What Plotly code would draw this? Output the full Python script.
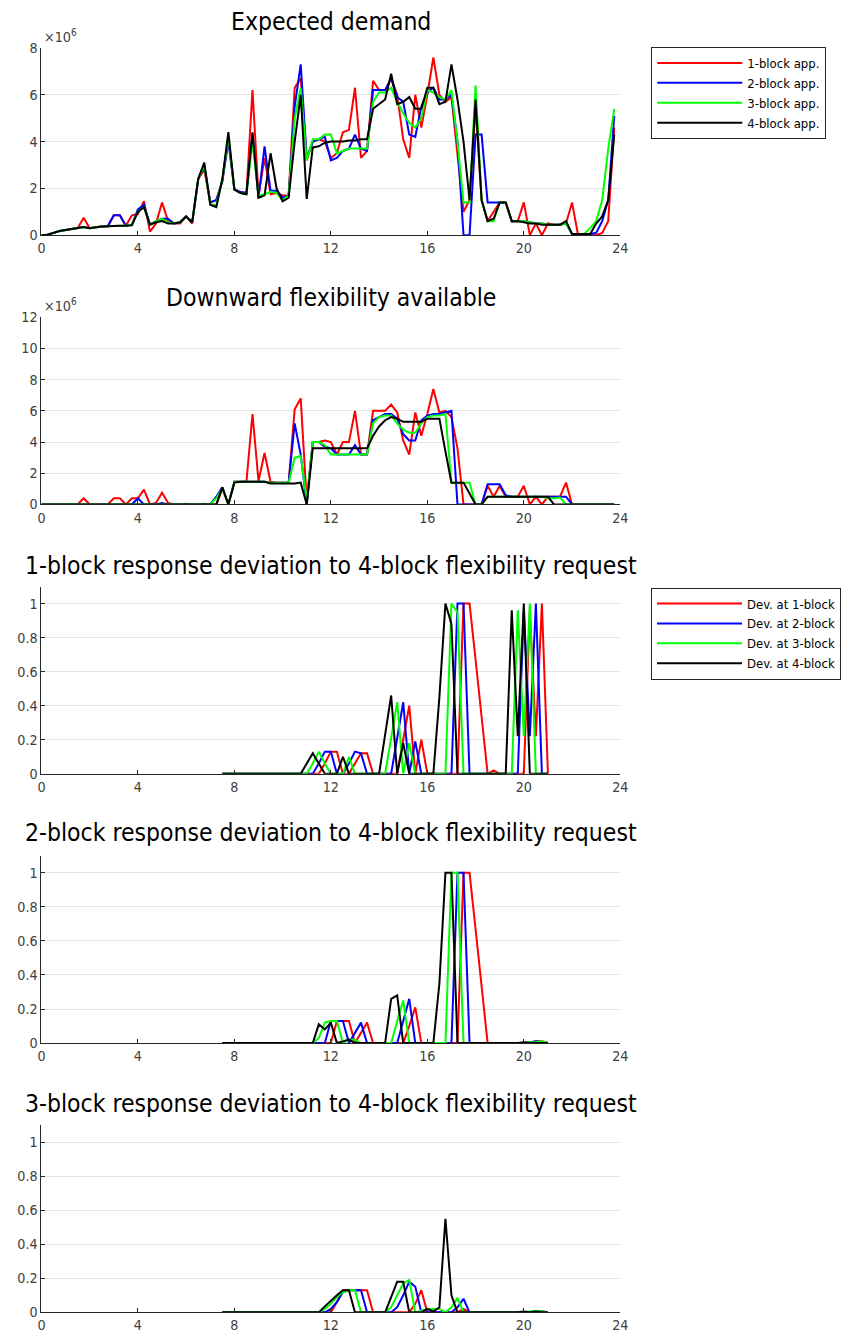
import plotly.graph_objects as go

# ---------------- data ----------------
HOURS = [i * 0.25 for i in range(96)]            # 0 .. 23.75 h (15-min steps)
DEV_HOURS = [7.5 + i * 0.25 for i in range(55)]  # 7.5 .. 21 h
X_TICKS = [0, 4, 8, 12, 16, 20, 24]

SERIES_NAMES = ["1-block app.", "2-block app.", "3-block app.", "4-block app."]
DEV_NAMES = ["Dev. at 1-block", "Dev. at 2-block", "Dev. at 3-block", "Dev. at 4-block"]
COLORS = ["#ff0000", "#0000ff", "#00ff00", "#000000"]
TITLES = ["Expected demand", "Downward flexibility available",
          "1-block response deviation to 4-block flexibility request",
          "2-block response deviation to 4-block flexibility request",
          "3-block response deviation to 4-block flexibility request"]

# Expected demand (x1e6)
DEM_1 = [0, 0.02, 0.1, 0.18, 0.22, 0.26, 0.3, 0.75, 0.3, 0.35, 0.37, 0.38,
         0.85, 0.85, 0.4, 0.85, 0.9, 1.45, 0.15, 0.5, 1.4, 0.6, 0.5, 0.5,
         0.8, 0.5, 2.4, 2.8, 1.4, 1.5, 2.3, 4.2, 1.95, 1.85, 1.8, 6.2,
         1.7, 3.3, 1.75, 1.8, 1.7, 1.7, 6.3, 6.7, 3.2, 4.0, 4.1, 4.0,
         3.3, 3.5, 4.4, 4.5, 6.3, 3.3, 3.6, 6.6, 6.2, 6.2, 6.7, 6.0,
         4.1, 3.3, 6.0, 4.6, 6.0, 7.6, 6.0, 5.7, 5.9, 3.5, 1.0, 1.5,
         5.5, 1.5, 0.6, 1.0, 1.4, 1.4, 0.6, 0.6, 1.4, 0.0, 0.5, 0.0,
         0.5, 0.45, 0.45, 0.5, 1.4, 0.0, 0.0, 0.0, 0.0, 0.1, 0.6, 4.6]
DEM_2 = [0, 0.02, 0.1, 0.18, 0.22, 0.26, 0.3, 0.35, 0.3, 0.35, 0.37, 0.38,
         0.85, 0.85, 0.4, 0.45, 1.1, 1.3, 0.45, 0.6, 0.7, 0.7, 0.5, 0.55,
         0.8, 0.55, 2.4, 3.0, 1.4, 1.5, 2.3, 4.0, 1.95, 1.85, 1.8, 4.3,
         1.6, 3.8, 1.9, 1.9, 1.6, 1.7, 5.5, 7.3, 3.3, 4.0, 4.1, 4.2,
         3.2, 3.3, 3.6, 3.7, 4.3, 3.7, 3.6, 6.2, 6.2, 6.2, 6.7, 5.9,
         5.7, 4.3, 4.2, 5.5, 6.1, 6.3, 5.8, 5.8, 6.0, 4.0, 0.0, 0.0,
         4.3, 4.3, 1.4, 1.4, 1.4, 1.4, 0.6, 0.6, 0.6, 0.55, 0.5, 0.5,
         0.45, 0.45, 0.45, 0.5, 0.05, 0.0, 0.0, 0.05, 0.1, 0.6, 1.5, 5.1]
DEM_3 = [0, 0.02, 0.1, 0.18, 0.22, 0.26, 0.3, 0.35, 0.3, 0.35, 0.37, 0.38,
         0.4, 0.4, 0.4, 0.45, 1.0, 1.2, 0.45, 0.6, 0.7, 0.55, 0.5, 0.55,
         0.8, 0.55, 2.4, 3.0, 1.3, 1.3, 2.4, 4.2, 1.95, 1.8, 1.75, 4.0,
         1.7, 1.75, 1.85, 1.8, 1.5, 1.7, 5.0, 6.3, 3.2, 4.1, 4.1, 4.3,
         4.3, 3.5, 3.6, 3.7, 3.7, 3.7, 3.7, 5.7, 6.1, 6.1, 6.3, 5.7,
         5.2, 4.8, 4.6, 5.0, 6.2, 6.1, 5.9, 5.8, 6.2, 4.0, 1.4, 1.4,
         6.4, 1.5, 0.6, 0.6, 1.4, 1.4, 0.6, 0.6, 0.6, 0.55, 0.5, 0.5,
         0.45, 0.45, 0.45, 0.5, 0.05, 0.05, 0.05, 0.3, 0.6, 1.5, 3.7, 5.4]
DEM_4 = [0, 0.02, 0.1, 0.18, 0.22, 0.26, 0.3, 0.35, 0.3, 0.35, 0.37, 0.38,
         0.4, 0.4, 0.4, 0.42, 1.0, 1.2, 0.45, 0.55, 0.6, 0.5, 0.5, 0.55,
         0.8, 0.55, 2.4, 3.1, 1.3, 1.2, 2.4, 4.4, 1.95, 1.8, 1.75, 4.4,
         1.6, 1.7, 3.5, 2.0, 1.45, 1.6, 4.0, 6.0, 1.55, 3.75, 3.8, 3.95,
         4.0, 4.0, 4.0, 4.05, 4.05, 4.1, 4.1, 5.4, 5.6, 5.8, 6.9, 5.6,
         5.7, 5.9, 5.4, 5.4, 6.3, 6.3, 5.6, 5.7, 7.3, 5.8, 4.0, 1.5,
         5.8, 1.5, 0.6, 0.7, 1.4, 1.4, 0.6, 0.6, 0.55, 0.5, 0.5, 0.45,
         0.45, 0.45, 0.45, 0.6, 0.05, 0.05, 0.05, 0.05, 0.5, 0.8, 1.5, 4.3]

# Downward flexibility available (x1e6)
FLEX_1 = [0, 0, 0, 0, 0, 0, 0, 0.4, 0, 0, 0, 0,
          0.4, 0.4, 0, 0.4, 0.4, 0.95, 0, 0.1, 0.75, 0.1, 0, 0,
          0.05, 0, 0, 0.05, 0, 0, 1.0, 0, 1.45, 1.45, 1.45, 5.8,
          1.5, 3.3, 1.45, 1.4, 1.4, 1.4, 6.1, 6.8, 0.2, 4.0, 4.0, 4.1,
          4.0, 3.2, 4.0, 4.0, 6.0, 3.2, 3.2, 6.0, 6.0, 6.0, 6.4, 5.9,
          4.1, 3.2, 5.9, 4.4, 5.8, 7.4, 5.9, 6.0, 5.6, 3.6, 0, 0,
          0, 0, 1.2, 0.5, 1.2, 0.5, 0.5, 0.5, 1.2, 0, 0.5, 0,
          0.5, 0.5, 0.5, 1.4, 0, 0, 0, 0, 0, 0, 0, 0]
FLEX_2 = [0, 0, 0, 0, 0, 0, 0, 0, 0, 0, 0, 0,
          0, 0, 0, 0, 0.4, 0, 0, 0, 0.1, 0, 0, 0,
          0, 0, 0, 0, 0, 0.5, 1.1, 0, 1.45, 1.45, 1.45, 1.45,
          1.45, 1.45, 1.4, 1.4, 1.4, 1.4, 5.2, 3.2, 0, 4.0, 4.0, 3.7,
          3.6, 3.2, 3.2, 3.2, 3.8, 3.2, 3.2, 5.4, 5.6, 5.8, 5.8, 5.5,
          4.5, 4.1, 4.1, 5.4, 5.7, 5.8, 5.8, 5.9, 6.0, 0, 0, 0,
          0, 0, 1.3, 1.3, 1.3, 0.6, 0.5, 0.5, 0.5, 0.5, 0.5, 0.5,
          0.5, 0.5, 0.5, 0.5, 0, 0, 0, 0, 0, 0, 0, 0]
FLEX_3 = [0, 0, 0, 0, 0, 0, 0, 0, 0, 0, 0, 0,
          0, 0, 0, 0, 0, 0, 0, 0, 0, 0, 0, 0,
          0, 0, 0, 0, 0, 0.4, 1.0, 0, 1.45, 1.45, 1.45, 1.45,
          1.45, 1.45, 1.4, 1.4, 1.4, 1.4, 3.0, 3.1, 0.3, 4.0, 4.0, 3.8,
          3.2, 3.2, 3.2, 3.2, 3.2, 3.2, 3.2, 5.2, 5.6, 5.7, 5.7, 5.2,
          4.8, 4.6, 4.6, 5.2, 5.6, 5.7, 5.7, 5.8, 1.4, 1.4, 1.4, 1.4,
          0, 0, 0.5, 0.5, 0.5, 0.5, 0.5, 0.5, 0.5, 0.5, 0.5, 0.5,
          0.4, 0.4, 0.45, 0, 0, 0, 0, 0, 0, 0, 0, 0]
FLEX_4 = [0, 0, 0, 0, 0, 0, 0, 0, 0, 0, 0, 0,
          0, 0, 0, 0, 0, 0, 0, 0, 0, 0, 0, 0,
          0, 0, 0, 0, 0, 0, 1.1, 0, 1.4, 1.45, 1.45, 1.45,
          1.45, 1.45, 1.35, 1.35, 1.35, 1.35, 1.35, 1.4, 0, 3.6, 3.6, 3.6,
          3.6, 3.6, 3.6, 3.6, 3.6, 3.6, 3.6, 4.4, 5.0, 5.4, 5.6, 5.5,
          5.3, 5.3, 5.3, 5.3, 5.5, 5.5, 5.5, 3.4, 1.4, 1.4, 1.4, 0.7,
          0, 0, 0.5, 0.5, 0.5, 0.5, 0.5, 0.5, 0.5, 0.5, 0.5, 0.5,
          0.5, 0, 0, 0, 0, 0, 0, 0, 0, 0, 0, 0]

# Response deviations (7.5 h .. 21 h)
DEV1_1 = [0, 0, 0, 0, 0, 0, 0, 0, 0, 0, 0, 0, 0, 0,
          0, 0, 0, 0.06, 0.13, 0.13, 0, 0, 0.06, 0.12, 0.12, 0,
          0, 0, 0, 0, 0.2, 0.4, 0, 0.2, 0, 0, 0, 0,
          0, 0, 1.0, 1.0, 0.67, 0.33, 0, 0.02, 0, 0, 0, 0,
          0, 0.96, 0.22, 1.0, 0]
DEV1_2 = [0, 0, 0, 0, 0, 0, 0, 0, 0, 0, 0, 0, 0, 0,
          0, 0, 0.06, 0.13, 0.13, 0, 0, 0.06, 0.13, 0.12, 0, 0,
          0, 0, 0, 0.21, 0.42, 0, 0.19, 0, 0, 0, 0, 0,
          0, 1.0, 1.0, 0, 0, 0, 0, 0, 0, 0, 0, 0,
          0.96, 0.22, 1.0, 0, 0]
DEV1_3 = [0, 0, 0, 0, 0, 0, 0, 0, 0, 0, 0, 0, 0, 0,
          0, 0.06, 0.13, 0.06, 0, 0, 0, 0.1, 0, 0, 0, 0,
          0, 0, 0.21, 0.42, 0, 0.18, 0, 0, 0, 0, 0, 0,
          1.0, 0.95, 0, 0, 0, 0, 0, 0, 0, 0, 0, 0.96,
          0.22, 1.0, 0, 0, 0]
DEV1_4 = [0, 0, 0, 0, 0, 0, 0, 0, 0, 0, 0, 0, 0, 0,
          0.06, 0.12, 0.06, 0, 0, 0, 0.1, 0, 0, 0, 0, 0,
          0, 0.23, 0.46, 0, 0.18, 0, 0, 0, 0, 0, 0.45, 1.0,
          0.88, 0, 0, 0, 0, 0, 0, 0, 0, 0, 0.96, 0.22,
          1.0, 0, 0, 0, 0]

DEV2_1 = [0, 0, 0, 0, 0, 0, 0, 0, 0, 0, 0, 0, 0, 0,
          0, 0, 0, 0, 0, 0.13, 0.13, 0.13, 0, 0.06, 0.12, 0,
          0, 0, 0, 0, 0, 0.1, 0.21, 0, 0, 0, 0, 0,
          0, 0, 1.0, 1.0, 0.67, 0.33, 0, 0, 0, 0, 0, 0,
          0, 0, 0.01, 0.01, 0]
DEV2_2 = [0, 0, 0, 0, 0, 0, 0, 0, 0, 0, 0, 0, 0, 0,
          0, 0, 0, 0, 0.13, 0.13, 0.13, 0, 0.06, 0.12, 0, 0,
          0, 0, 0, 0, 0.13, 0.26, 0, 0, 0, 0, 0, 0,
          0, 1.0, 1.0, 0, 0, 0, 0, 0, 0, 0, 0, 0,
          0, 0.005, 0.01, 0.005, 0]
DEV2_3 = [0, 0, 0, 0, 0, 0, 0, 0, 0, 0, 0, 0, 0, 0,
          0, 0, 0.03, 0.12, 0.13, 0.13, 0, 0.02, 0.02, 0, 0, 0,
          0, 0, 0, 0.13, 0.25, 0, 0, 0, 0, 0, 0, 0,
          1.0, 1.0, 0, 0, 0, 0, 0, 0, 0, 0, 0, 0,
          0, 0.005, 0.005, 0.01, 0]
DEV2_4 = [0, 0, 0, 0, 0, 0, 0, 0, 0, 0, 0, 0, 0, 0,
          0, 0, 0.11, 0.08, 0.12, 0, 0.01, 0.02, 0, 0, 0, 0,
          0, 0, 0.26, 0.28, 0, 0, 0, 0, 0, 0, 0.35, 1.0,
          1.0, 0, 0, 0, 0, 0, 0, 0, 0, 0, 0, 0,
          0.005, 0, 0, 0, 0]

DEV3_1 = [0, 0, 0, 0, 0, 0, 0, 0, 0, 0, 0, 0, 0, 0,
          0, 0, 0, 0, 0, 0.06, 0.13, 0.13, 0.13, 0.13, 0.13, 0,
          0, 0, 0, 0, 0, 0, 0.05, 0.13, 0, 0, 0, 0,
          0, 0, 0.02, 0, 0, 0, 0, 0, 0, 0, 0, 0,
          0, 0, 0, 0.005, 0]
DEV3_2 = [0, 0, 0, 0, 0, 0, 0, 0, 0, 0, 0, 0, 0, 0,
          0, 0, 0, 0, 0.02, 0.06, 0.12, 0.13, 0.13, 0.13, 0, 0,
          0, 0, 0, 0.03, 0.1, 0.18, 0.15, 0, 0, 0, 0, 0,
          0, 0.03, 0.08, 0, 0, 0, 0, 0, 0, 0, 0, 0,
          0, 0, 0.005, 0.005, 0]
DEV3_3 = [0, 0, 0, 0, 0, 0, 0, 0, 0, 0, 0, 0, 0, 0,
          0, 0, 0, 0.02, 0.05, 0.09, 0.12, 0.13, 0.13, 0, 0, 0,
          0, 0, 0.03, 0.1, 0.17, 0.19, 0, 0.01, 0.02, 0.02, 0.02, 0,
          0.03, 0.085, 0, 0, 0, 0, 0, 0, 0, 0, 0, 0,
          0, 0.005, 0.01, 0.005, 0]
DEV3_4 = [0, 0, 0, 0, 0, 0, 0, 0, 0, 0, 0, 0, 0, 0,
          0, 0, 0, 0.035, 0.07, 0.1, 0.13, 0.13, 0, 0, 0, 0,
          0, 0, 0.09, 0.18, 0.18, 0, 0, 0, 0.02, 0.005, 0.03, 0.55,
          0.1, 0, 0, 0, 0, 0, 0, 0, 0, 0, 0, 0,
          0.005, 0, 0.005, 0, 0]

DEV_TICKS = [0, 0.2, 0.4, 0.6, 0.8, 1]
DEV_TICK_TEXT = ["0", "0.2", "0.4", "0.6", "0.8", "1"]

PANELS = [
    (HOURS, [DEM_1, DEM_2, DEM_3, DEM_4], [0, 8], [0, 2, 4, 6, 8], ["0", "2", "4", "6", "8"]),
    (HOURS, [FLEX_1, FLEX_2, FLEX_3, FLEX_4], [0, 12], [0, 2, 4, 6, 8, 10, 12],
     ["0", "2", "4", "6", "8", "10", "12"]),
    (DEV_HOURS, [DEV1_1, DEV1_2, DEV1_3, DEV1_4], [0, 1.1], DEV_TICKS, DEV_TICK_TEXT),
    (DEV_HOURS, [DEV2_1, DEV2_2, DEV2_3, DEV2_4], [0, 1.1], DEV_TICKS, DEV_TICK_TEXT),
    (DEV_HOURS, [DEV3_1, DEV3_2, DEV3_3, DEV3_4], [0, 1.1], DEV_TICKS, DEV_TICK_TEXT),
]

# ---------------- layout constants ----------------
W, H = 841, 1340
# Measured: the photographed page maps figure pixel f to picture pixel
# S*f + C (page margin plus capture scaling); place items by target pixels.
SX, CX = 0.986, 2.55
SY, CY = 0.987, 8.06


def px_x(X):
    return ((X - CX) / SX) / W


def px_y(Y):
    return 1 - ((Y - CY) / SY) / H


FONT = "Liberation Sans Narrow, DejaVu Sans Condensed, Arial Narrow, sans-serif"
AX_COLOR = "#262626"
TICK_COLOR = "#404040"
GRID_COLOR = "#e3e3e3"
X0, X1 = 40, 619
PANEL_TOP0, PANEL_H, PANEL_STEP = 48, 187, 269
TITLE_OFFSETS = [26, 20, 21, 23, 22]
TICK_SIZE = 14.2
TITLE_SIZE = 24.5

fig = go.Figure()
layout = dict(
    width=W, height=H, margin=dict(l=0, r=0, t=0, b=0),
    paper_bgcolor="white", plot_bgcolor="white",
    font=dict(family=FONT, color=TICK_COLOR, size=TICK_SIZE),
    annotations=[],
)

for p, (xs, series, yrange, yticks, ytext) in enumerate(PANELS):
    top = PANEL_TOP0 + p * PANEL_STEP
    bottom = top + PANEL_H
    sfx = "" if p == 0 else str(p + 1)
    for s, ys in enumerate(series):
        if p == 0:
            name, leg, show = SERIES_NAMES[s], "legend", True
        elif p == 2:
            name, leg, show = DEV_NAMES[s], "legend2", True
        else:
            name, leg, show = SERIES_NAMES[s], "legend", False
        fig.add_trace(go.Scatter(
            x=xs, y=ys, mode="lines", name=name,
            line=dict(color=COLORS[s], width=2),
            xaxis="x" + sfx, yaxis="y" + sfx,
            legend=leg, showlegend=show,
        ))
    layout["xaxis" + sfx] = dict(
        domain=[px_x(X0), px_x(X1)], anchor="y" + sfx, range=[0, 24],
        tickvals=X_TICKS, ticktext=[str(v) for v in X_TICKS],
        showline=True, linecolor=AX_COLOR, linewidth=1,
        ticks="inside", ticklen=4, tickcolor=AX_COLOR,
        showgrid=False, zeroline=False,
        tickfont=dict(family=FONT, size=TICK_SIZE, color=TICK_COLOR),
    )
    layout["yaxis" + sfx] = dict(
        domain=[px_y(bottom), px_y(top)], anchor="x" + sfx, range=yrange,
        tickvals=yticks, ticktext=ytext,
        showline=True, linecolor=AX_COLOR, linewidth=1,
        ticks="inside", ticklen=4, tickcolor=AX_COLOR,
        showgrid=True, gridcolor=GRID_COLOR, gridwidth=1, zeroline=False,
        tickfont=dict(family=FONT, size=TICK_SIZE, color=TICK_COLOR),
    )
    layout["annotations"].append(dict(
        text=TITLES[p], xref="paper", yref="paper",
        x=px_x((X0 + X1) / 2), y=px_y(top - TITLE_OFFSETS[p]),
        xanchor="center", yanchor="middle", showarrow=False,
        font=dict(family=FONT, size=TITLE_SIZE, color="#000000"),
    ))
    if p < 2:
        layout["annotations"].append(dict(
            text="×10<sup>6</sup>", xref="paper", yref="paper",
            x=px_x(41), y=px_y(top - 12), xanchor="left", yanchor="middle",
            showarrow=False, font=dict(family=FONT, size=TICK_SIZE, color=TICK_COLOR),
        ))

legend_style = dict(
    bgcolor="white", bordercolor=AX_COLOR, borderwidth=1,
    font=dict(family=FONT, size=13, color="#000000"),
    xanchor="left", yanchor="top", tracegroupgap=0, itemwidth=85,
    traceorder="normal",
)
layout["legend"] = dict(legend_style, x=px_x(650), y=px_y(47))
layout["legend2"] = dict(legend_style, x=px_x(650), y=px_y(587))
fig.update_layout(**layout)

fig.write_html("out.html")
